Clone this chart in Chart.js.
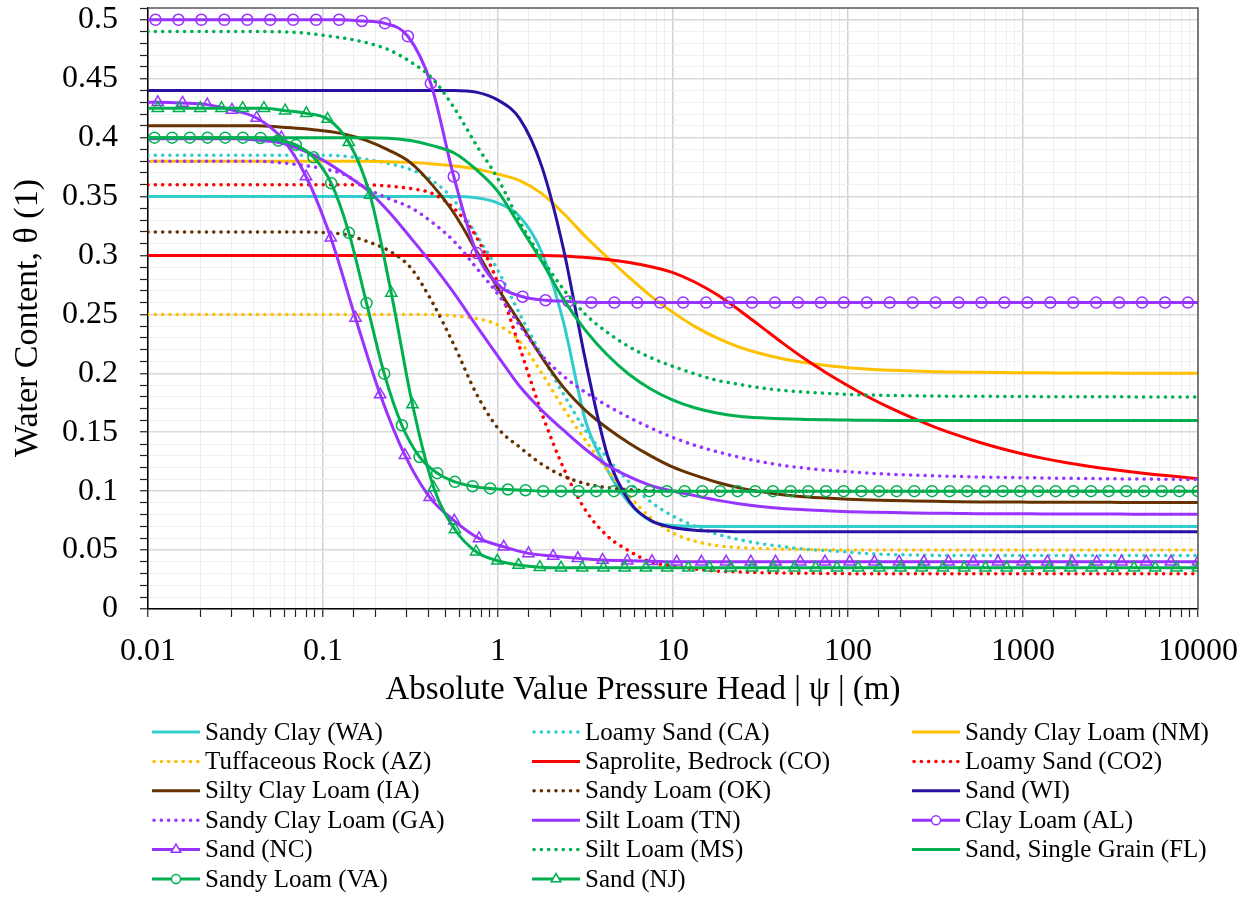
<!DOCTYPE html>
<html>
<head>
<meta charset="utf-8">
<script src="https://cdn.jsdelivr.net/npm/chart.js@4.4.1/dist/chart.umd.min.js"></script>
<style>
  html, body { margin: 0; padding: 0; background: #fff; }
  #wrap { width: 1249px; height: 897px; }
</style>
</head>
<body>
<div id="wrap"><canvas id="chart" width="1249" height="897"></canvas></div>
<script>
// Напор |psi| (м) для кривых без маркеров
const headGrid = [0.01, 0.0133, 0.0178, 0.0237, 0.0316, 0.0422, 0.0562, 0.075,
  0.1, 0.133, 0.178, 0.237, 0.316, 0.422, 0.562, 0.75,
  1, 1.33, 1.78, 2.37, 3.16, 4.22, 5.62, 7.5,
  10, 13.3, 17.8, 23.7, 31.6, 42.2, 56.2, 75,
  100, 133, 178, 237, 316, 422, 562, 750,
  1000, 1330, 1780, 2370, 3160, 4220, 5620, 7500, 10000];

// Точки с маркерами (каждая кривая со своим шагом)
const headAL = [0.01, 0.01104, 0.01493, 0.02019, 0.0273, 0.03694, 0.04995, 0.06755, 0.09134,
  0.1235, 0.167, 0.2259, 0.3055, 0.4131, 0.5587, 0.7556, 1.022, 1.382, 1.869, 2.527, 3.418,
  4.622, 6.252, 8.455, 11.43, 15.46, 20.91, 28.28, 38.24, 51.72, 69.95, 94.6, 127.9, 173,
  234, 316.4, 428, 578.8, 782.8, 1059, 1432, 1936, 2618, 3541, 4789, 6476, 8759, 10000];
const headNC = [0.01, 0.01138, 0.01575, 0.0218, 0.03017, 0.04176, 0.05781, 0.08, 0.1108,
  0.1533, 0.2122, 0.2938, 0.4066, 0.5628, 0.7791, 1.078, 1.493, 2.066, 2.86, 3.959, 5.48,
  7.586, 10.5, 14.53, 20.12, 27.85, 38.55, 53.36, 73.86, 102.2, 141.5, 195.9, 271.2, 375.4,
  519.6, 719.3, 995.4, 1378, 1908, 2640, 3655, 5058, 7001, 10000];
const headNJ = [0.01, 0.01138, 0.01504, 0.01989, 0.02629, 0.03476, 0.04596, 0.06076, 0.08034,
  0.1062, 0.1404, 0.1856, 0.2455, 0.3245, 0.4291, 0.5673, 0.7499, 0.9915, 1.311, 1.733,
  2.292, 3.03, 4.006, 5.297, 7.003, 9.259, 12.24, 16.18, 21.4, 28.29, 37.4, 49.45, 65.37,
  86.43, 114.3, 151.1, 199.7, 264.1, 349.1, 461.6, 610.3, 806.9, 1067, 1410, 1865, 2465,
  3259, 4309, 5697, 7532, 10000];
const headVA = [0.01, 0.01089, 0.01374, 0.01734, 0.02189, 0.02761, 0.03484, 0.04395, 0.05546,
  0.06998, 0.08829, 0.1114, 0.1406, 0.1773, 0.2238, 0.2823, 0.3562, 0.4494, 0.5671, 0.7155,
  0.9029, 1.139, 1.437, 1.814, 2.288, 2.887, 3.643, 4.597, 5.8, 7.318, 9.233, 11.65, 14.7,
  18.55, 23.4, 29.53, 37.26, 47, 59.31, 74.83, 94.41, 119.1, 150.3, 189.7, 239.3, 302, 381,
  480.7, 606.6, 765.4, 965.4, 1218, 1537, 1939, 2447, 3087, 3895, 4914, 6201, 7824, 10000];

// Влажность theta (по сетке headGrid)
const sandyClayWA = [0.35, 0.35, 0.35, 0.35, 0.35, 0.35, 0.35, 0.35,
  0.35, 0.35, 0.35, 0.35, 0.35, 0.35, 0.35, 0.349,
  0.3445, 0.333, 0.3025, 0.243, 0.16, 0.118, 0.09, 0.0746,
  0.0708, 0.0702, 0.07, 0.07, 0.07, 0.07, 0.07, 0.07,
  0.07, 0.07, 0.07, 0.07, 0.07, 0.07, 0.07, 0.07,
  0.07, 0.07, 0.07, 0.07, 0.07, 0.07, 0.07, 0.07, 0.07];
const loamySandCA = [0.385, 0.385, 0.385, 0.385, 0.385, 0.385, 0.385, 0.385,
  0.385, 0.3843, 0.3814, 0.378, 0.373, 0.3636, 0.3466, 0.3178,
  0.2873, 0.2504, 0.2153, 0.1822, 0.1517, 0.128, 0.1076, 0.0907,
  0.0788, 0.0703, 0.0636, 0.0589, 0.0555, 0.053, 0.0508, 0.0496,
  0.0483, 0.047, 0.0462, 0.0458, 0.0455, 0.0455, 0.0455, 0.0455,
  0.0455, 0.0455, 0.0455, 0.0455, 0.0455, 0.0455, 0.0455, 0.0455, 0.0455];
const sandyClayLoamNM = [0.38, 0.38, 0.38, 0.38, 0.38, 0.38, 0.38, 0.38,
  0.38, 0.38, 0.38, 0.3795, 0.379, 0.3777, 0.376, 0.3735,
  0.369, 0.3636, 0.3525, 0.3356, 0.3161, 0.2983, 0.2814, 0.2653,
  0.2517, 0.2398, 0.23, 0.2225, 0.2168, 0.2124, 0.2091, 0.2066,
  0.2048, 0.2035, 0.2026, 0.2019, 0.2014, 0.2011, 0.2008, 0.2006,
  0.2005, 0.2004, 0.2003, 0.2002, 0.2002, 0.2001, 0.2001, 0.2, 0.2];
const tuffRockAZ = [0.25, 0.25, 0.25, 0.25, 0.25, 0.25, 0.25, 0.25,
  0.25, 0.25, 0.25, 0.25, 0.25, 0.25, 0.2487, 0.2466,
  0.241, 0.2271, 0.2, 0.1703, 0.1432, 0.1178, 0.0958, 0.0771,
  0.0644, 0.0576, 0.0538, 0.0521, 0.0513, 0.0508, 0.0505, 0.0503,
  0.05, 0.05, 0.05, 0.05, 0.05, 0.05, 0.05, 0.05,
  0.05, 0.05, 0.05, 0.05, 0.05, 0.05, 0.05, 0.05, 0.05];
const saproliteCO = [0.3, 0.3, 0.3, 0.3, 0.3, 0.3, 0.3, 0.3,
  0.3, 0.3, 0.3, 0.3, 0.3, 0.3, 0.3, 0.3,
  0.3, 0.3, 0.3, 0.2996, 0.2983, 0.2966, 0.2941, 0.2905,
  0.2855, 0.2775, 0.2668, 0.254, 0.24, 0.2258, 0.2125, 0.2005,
  0.1895, 0.1793, 0.17, 0.1617, 0.1542, 0.1475, 0.1415, 0.1362,
  0.1316, 0.1276, 0.1241, 0.1211, 0.1185, 0.1162, 0.1142, 0.1124, 0.1106];
const loamySandCO2 = [0.36, 0.36, 0.36, 0.36, 0.36, 0.36, 0.36, 0.36,
  0.36, 0.36, 0.3599, 0.3589, 0.3568, 0.3525, 0.3398, 0.3161,
  0.2763, 0.222, 0.166, 0.1195, 0.0839, 0.0619, 0.0492, 0.0398,
  0.0364, 0.0339, 0.0322, 0.0314, 0.0309, 0.0305, 0.0303, 0.0302,
  0.03, 0.03, 0.03, 0.03, 0.03, 0.03, 0.03, 0.03,
  0.03, 0.03, 0.03, 0.03, 0.03, 0.03, 0.03, 0.03, 0.03];
const siltyClayLoamIA = [0.41, 0.41, 0.41, 0.41, 0.41, 0.41, 0.4091, 0.4078,
  0.4059, 0.403, 0.3975, 0.3894, 0.3788, 0.3597, 0.3356, 0.3042,
  0.272, 0.2432, 0.2136, 0.1881, 0.1686, 0.1534, 0.1407, 0.1297,
  0.1203, 0.1136, 0.1076, 0.103, 0.0996, 0.097, 0.0953, 0.0941,
  0.0932, 0.0925, 0.092, 0.0917, 0.0914, 0.0911, 0.0909, 0.0908,
  0.0907, 0.0906, 0.0906, 0.0905, 0.0905, 0.0904, 0.0904, 0.0904, 0.0904];
const sandyLoamOK = [0.32, 0.32, 0.32, 0.32, 0.32, 0.32, 0.32, 0.32,
  0.3195, 0.3178, 0.312, 0.3042, 0.2898, 0.2602, 0.2237, 0.1831,
  0.1534, 0.1373, 0.1229, 0.1127, 0.1064, 0.103, 0.1013, 0.1004,
  0.1, 0.1, 0.1, 0.1, 0.1, 0.1, 0.1, 0.1,
  0.1, 0.1, 0.1, 0.1, 0.1, 0.1, 0.1, 0.1,
  0.1, 0.1, 0.1, 0.1, 0.1, 0.1, 0.1, 0.1, 0.1];
const sandWI = [0.44, 0.44, 0.44, 0.44, 0.44, 0.44, 0.44, 0.44,
  0.44, 0.44, 0.44, 0.44, 0.44, 0.44, 0.44, 0.4386,
  0.4318, 0.4161, 0.3754, 0.3051, 0.211, 0.1305, 0.0915, 0.075,
  0.0691, 0.0669, 0.0661, 0.0655, 0.0655, 0.0655, 0.0655, 0.0655,
  0.0655, 0.0655, 0.0655, 0.0655, 0.0655, 0.0655, 0.0655, 0.0655,
  0.0655, 0.0655, 0.0655, 0.0655, 0.0655, 0.0655, 0.0655, 0.0655, 0.0655];
const sandyClayLoamGA = [0.38, 0.38, 0.38, 0.38, 0.38, 0.38, 0.3788, 0.3767,
  0.3737, 0.3686, 0.3568, 0.3483, 0.3407, 0.328, 0.3119, 0.2898,
  0.2669, 0.2407, 0.2153, 0.1975, 0.1839, 0.1725, 0.1625, 0.1535,
  0.1455, 0.139, 0.1335, 0.1289, 0.125, 0.1219, 0.1196, 0.1178,
  0.1165, 0.1153, 0.1142, 0.1136, 0.113, 0.1125, 0.112, 0.1117,
  0.1114, 0.1112, 0.1109, 0.1107, 0.1105, 0.1103, 0.1102, 0.11, 0.1099];
const siltLoamTN = [0.399, 0.399, 0.399, 0.399, 0.399, 0.3979, 0.3958, 0.3898,
  0.3809, 0.3691, 0.3559, 0.3373, 0.3153, 0.2924, 0.2678, 0.2407,
  0.2144, 0.189, 0.1686, 0.1517, 0.1356, 0.122, 0.1123, 0.1047,
  0.1, 0.0962, 0.0924, 0.0894, 0.087, 0.0853, 0.0842, 0.0833,
  0.0826, 0.0822, 0.0818, 0.0815, 0.0813, 0.0811, 0.0809, 0.0809,
  0.0808, 0.0807, 0.0807, 0.0806, 0.0806, 0.0805, 0.0805, 0.0805, 0.0805];
const siltLoamMS = [0.49, 0.49, 0.49, 0.49, 0.49, 0.49, 0.4898, 0.489,
  0.4869, 0.4843, 0.4805, 0.4746, 0.4644, 0.4501, 0.4252, 0.394,
  0.365, 0.3288, 0.2975, 0.2712, 0.25, 0.2347, 0.2225, 0.2131,
  0.2059, 0.1996, 0.1941, 0.1907, 0.1877, 0.1856, 0.1841, 0.1831,
  0.1822, 0.1816, 0.1812, 0.1809, 0.1807, 0.1805, 0.1805, 0.1804,
  0.1803, 0.1802, 0.1802, 0.1801, 0.1801, 0.18, 0.18, 0.18, 0.18];
const sandSingleFL = [0.4, 0.4, 0.4, 0.4, 0.4, 0.4, 0.4, 0.4,
  0.4, 0.4, 0.4, 0.3995, 0.3975, 0.3932, 0.387, 0.373,
  0.3542, 0.325, 0.2949, 0.2627, 0.2364, 0.2155, 0.199, 0.1865,
  0.1773, 0.1708, 0.1663, 0.1636, 0.1622, 0.1614, 0.1609, 0.1605,
  0.1603, 0.1601, 0.16, 0.16, 0.16, 0.16, 0.16, 0.16,
  0.16, 0.16, 0.16, 0.16, 0.16, 0.16, 0.16, 0.16, 0.16];

// Кривые с маркерами (по своим сеткам)
const clayLoamAL = [0.5, 0.5, 0.5, 0.5, 0.5, 0.5, 0.5, 0.5, 0.5, 0.5,
  0.499, 0.497, 0.486, 0.446, 0.367, 0.302, 0.274, 0.265, 0.262, 0.261,
  0.26, 0.26, 0.26, 0.26, 0.26, 0.26, 0.26, 0.26, 0.26, 0.26, 0.26, 0.26, 0.26, 0.26,
  0.26, 0.26, 0.26, 0.26, 0.26, 0.26, 0.26, 0.26, 0.26, 0.26, 0.26, 0.26, 0.26, 0.26];
const sandNC = [0.43, 0.43, 0.4294, 0.428, 0.4235, 0.4167, 0.4, 0.367, 0.315, 0.247,
  0.182, 0.1305, 0.0949, 0.0748, 0.0599, 0.0528, 0.0472, 0.0449, 0.043, 0.0415,
  0.041, 0.0405, 0.04, 0.04, 0.04, 0.04, 0.04, 0.04, 0.04, 0.04, 0.04, 0.04,
  0.04, 0.04, 0.04, 0.04, 0.04, 0.04, 0.04, 0.04, 0.04, 0.04, 0.04, 0.04];
const sandNJ = [0.425, 0.425, 0.425, 0.425, 0.425, 0.425, 0.425, 0.4229, 0.4206, 0.4158,
  0.396, 0.3514, 0.2682, 0.1735, 0.1031, 0.0675, 0.0486, 0.0409, 0.0373, 0.0355,
  0.035, 0.035, 0.035, 0.035, 0.035, 0.035, 0.035, 0.035, 0.035, 0.035, 0.035,
  0.035, 0.035, 0.035, 0.035, 0.035, 0.035, 0.035, 0.035, 0.035, 0.035, 0.035,
  0.035, 0.035, 0.035, 0.035, 0.035, 0.035, 0.035, 0.035, 0.035];
const sandyLoamVA = [0.4, 0.4, 0.4, 0.4, 0.4, 0.4, 0.4, 0.3997, 0.3975, 0.3938,
  0.3833, 0.3613, 0.3192, 0.2596, 0.1997, 0.1559, 0.129, 0.1153, 0.1079, 0.1042,
  0.1023, 0.1014, 0.1008, 0.1, 0.1, 0.1, 0.1, 0.1, 0.1, 0.1, 0.1, 0.1, 0.1, 0.1,
  0.1, 0.1, 0.1, 0.1, 0.1, 0.1, 0.1, 0.1, 0.1, 0.1, 0.1, 0.1, 0.1, 0.1, 0.1, 0.1,
  0.1, 0.1, 0.1, 0.1, 0.1, 0.1, 0.1, 0.1, 0.1, 0.1, 0.1];

const xTickLabels = ["0.01", "0.1", "1", "10", "100", "1000", "10000"];
const xTitle = "Absolute Value Pressure Head | \u03C8 | (m)";
const yTitle = "Water Content, \u03B8 (1)";

// Цвета
const TURQ = "#33CCCC";
const GOLD = "#FFC000";
const RED = "#FF0000";
const BROWN = "#663300";
const NAVY = "#2A0FA3";
const PURPLE = "#9933FF";
const GREEN = "#00B050";

// Серии в порядке легенды (по строкам)
const series = [
  { name: "Sandy Clay (WA)", x: headGrid, y: sandyClayWA, color: TURQ },
  { name: "Loamy Sand (CA)", x: headGrid, y: loamySandCA, color: TURQ, dotted: true },
  { name: "Sandy Clay Loam (NM)", x: headGrid, y: sandyClayLoamNM, color: GOLD },
  { name: "Tuffaceous Rock (AZ)", x: headGrid, y: tuffRockAZ, color: GOLD, dotted: true },
  { name: "Saprolite, Bedrock (CO)", x: headGrid, y: saproliteCO, color: RED },
  { name: "Loamy Sand (CO2)", x: headGrid, y: loamySandCO2, color: RED, dotted: true },
  { name: "Silty Clay Loam (IA)", x: headGrid, y: siltyClayLoamIA, color: BROWN },
  { name: "Sandy Loam (OK)", x: headGrid, y: sandyLoamOK, color: BROWN, dotted: true },
  { name: "Sand (WI)", x: headGrid, y: sandWI, color: NAVY },
  { name: "Sandy Clay Loam (GA)", x: headGrid, y: sandyClayLoamGA, color: PURPLE, dotted: true },
  { name: "Silt Loam (TN)", x: headGrid, y: siltLoamTN, color: PURPLE },
  { name: "Clay Loam (AL)", x: headAL, y: clayLoamAL, color: PURPLE, marker: "circle", bareEnd: true },
  { name: "Sand (NC)", x: headNC, y: sandNC, color: PURPLE, marker: "triangle" },
  { name: "Silt Loam (MS)", x: headGrid, y: siltLoamMS, color: GREEN, dotted: true },
  { name: "Sand, Single Grain (FL)", x: headGrid, y: sandSingleFL, color: GREEN },
  { name: "Sandy Loam (VA)", x: headVA, y: sandyLoamVA, color: GREEN, marker: "circle" },
  { name: "Sand (NJ)", x: headNJ, y: sandNJ, color: GREEN, marker: "triangle" },
];

const FONT = "'Liberation Serif', 'Times New Roman', serif";
const DOT_DASH = [0.1, 7.2];

function isDecade(v) {
  const l = Math.log10(v);
  return Math.abs(l - Math.round(l)) < 1e-6;
}
function isMajorY(v) {
  return Math.abs(v * 20 - Math.round(v * 20)) < 1e-6 && v <= 0.5001;
}

const datasets = series.map((s, i) => ({
  label: s.name,
  data: s.x.map((x, j) => ({ x: x, y: s.y[j] })),
  borderColor: s.color,
  backgroundColor: s.color,
  borderWidth: s.dotted ? 3.5 : 3,
  borderDash: s.dotted ? DOT_DASH : [],
  borderCapStyle: s.dotted ? "round" : "butt",
  cubicInterpolationMode: "monotone",
  pointStyle: s.marker || "circle",
  pointRadius: (ctx) => {
    if (!s.marker) return 0;
    const n = ctx.dataset.data.length;
    if (ctx.dataIndex === 0) return 0; // начало кривой без маркера
    if (s.bareEnd && ctx.dataIndex === n - 1) return 0;
    return s.marker === "triangle" ? 6.5 : 5.5;
  },
  pointBorderWidth: 1.5,
  pointBorderColor: s.color,
  pointBackgroundColor: "rgba(0,0,0,0)",
  order: series.length - i, // последние серии рисуются сверху
}));

// Легенда, рамка и подписи осей
const extrasPlugin = {
  id: "extras",
  afterDraw(chart) {
    const ctx = chart.ctx;
    const a = chart.chartArea;
    ctx.save();
    ctx.strokeStyle = "#595959";
    ctx.lineWidth = 1.5;
    ctx.beginPath();
    ctx.moveTo(a.left, a.top);
    ctx.lineTo(a.right, a.top);
    ctx.lineTo(a.right, a.bottom);
    ctx.stroke();

    ctx.fillStyle = "#000";
    ctx.textAlign = "center";
    ctx.textBaseline = "middle";
    ctx.font = "33px " + FONT;
    ctx.fillText(xTitle, 643, 690);
    ctx.save();
    ctx.translate(28, 318);
    ctx.rotate(-Math.PI / 2);
    ctx.font = "34px " + FONT;
    ctx.fillText(yTitle, 0, 0);
    ctx.restore();

    // легенда 3 колонки
    const colX = [152, 532, 912];
    const lineLen = 48;
    ctx.font = "25px " + FONT;
    ctx.textAlign = "left";
    series.forEach((s, i) => {
      const col = i % 3;
      const row = Math.floor(i / 3);
      const x0 = colX[col];
      const y0 = 732 + row * 29.4;
      ctx.save();
      ctx.strokeStyle = s.color;
      ctx.lineWidth = s.dotted ? 3.5 : 3;
      ctx.setLineDash(s.dotted ? DOT_DASH : []);
      ctx.lineCap = s.dotted ? "round" : "butt";
      ctx.beginPath();
      ctx.moveTo(x0 + (s.dotted ? 2 : 0), y0);
      ctx.lineTo(x0 + lineLen, y0);
      ctx.stroke();
      ctx.setLineDash([]);
      ctx.lineWidth = 1.5;
      const cx = x0 + lineLen / 2;
      if (s.marker === "circle") {
        ctx.beginPath();
        ctx.arc(cx, y0, 4.5, 0, Math.PI * 2);
        ctx.fillStyle = "#fff";
        ctx.fill();
        ctx.stroke();
      } else if (s.marker === "triangle") {
        const r = 5.5;
        ctx.beginPath();
        ctx.moveTo(cx, y0 - r);
        ctx.lineTo(cx + r * 0.87, y0 + r * 0.5);
        ctx.lineTo(cx - r * 0.87, y0 + r * 0.5);
        ctx.closePath();
        ctx.fillStyle = "#fff";
        ctx.fill();
        ctx.stroke();
      }
      ctx.restore();
      ctx.fillStyle = "#000";
      ctx.fillText(s.name, x0 + lineLen + 5, y0 + 1);
    });
    ctx.restore();
  },
};

const chart = new Chart(document.getElementById("chart"), {
  type: "line",
  data: { datasets: datasets },
  options: {
    responsive: false,
    animation: false,
    events: [],
    layout: { padding: { left: 0, right: 51, top: 7, bottom: 187 } },
    plugins: { legend: { display: false }, tooltip: { enabled: false } },
    scales: {
      x: {
        type: "logarithmic",
        min: 0.01,
        max: 10000,
        afterFit: (sc) => {
          sc.height = 101;
          sc.paddingLeft = 0;
          sc.paddingRight = 0;
        },
        grid: {
          color: (c) => (c.tick && isDecade(c.tick.value) ? "#d2d2d2" : "#efefef"),
          lineWidth: (c) => (c.tick && isDecade(c.tick.value) ? 1.5 : 1),
          tickLength: 8,
          tickColor: "#222",
          tickWidth: 1.2,
        },
        border: { color: "#000", width: 1.5 },
        ticks: {
          autoSkip: false,
          maxRotation: 0,
          minRotation: 0,
          padding: 15,
          color: "#000",
          font: { family: FONT, size: 32 },
          callback: (v) => (isDecade(v) ? xTickLabels[Math.round(Math.log10(v)) + 2] : ""),
        },
      },
      y: {
        min: 0,
        max: 0.51,
        afterFit: (sc) => {
          sc.width = 148;
          sc.paddingTop = 0;
          sc.paddingBottom = 0;
        },
        grid: {
          color: (c) => (c.tick && isMajorY(c.tick.value) ? "#d9d9d9" : "#f0f0f0"),
          lineWidth: (c) => (c.tick && isMajorY(c.tick.value) ? 1.5 : 1),
          tickLength: 8,
          tickColor: "#222",
          tickWidth: 1.2,
        },
        border: { color: "#000", width: 1.5 },
        ticks: {
          stepSize: 0.01,
          maxTicksLimit: 100,
          autoSkip: false,
          padding: 22,
          color: "#000",
          font: { family: FONT, size: 32 },
          callback: (v) => (isMajorY(v) ? String(parseFloat(v.toFixed(2))) : ""),
        },
      },
    },
  },
  plugins: [extrasPlugin],
});
</script>
</body>
</html>
